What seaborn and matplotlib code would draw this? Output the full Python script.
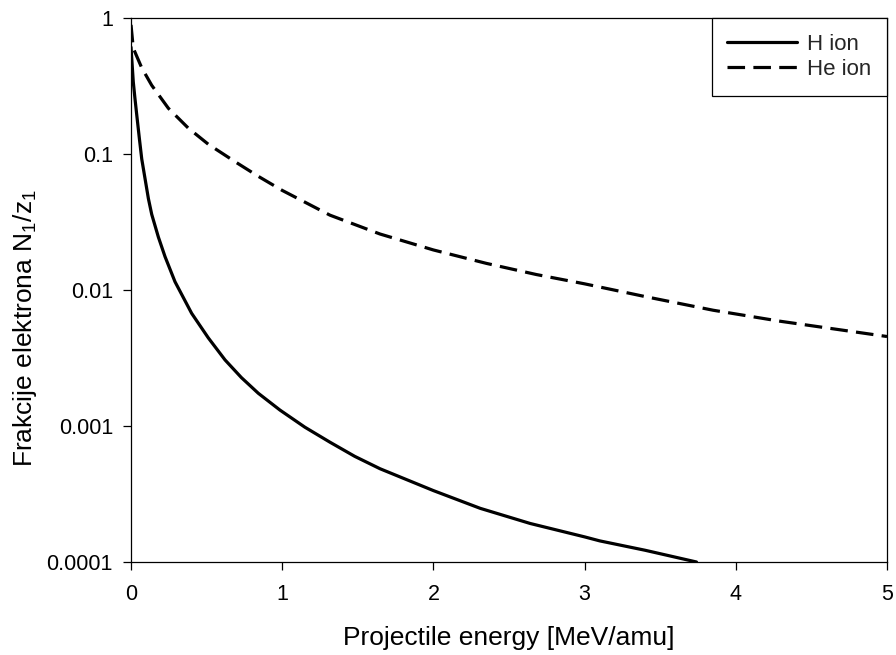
import matplotlib
matplotlib.use("Agg")
import matplotlib.pyplot as plt
import seaborn as sns
import pandas as pd
from matplotlib.ticker import FixedLocator, FixedFormatter, NullLocator

# Data
h_energy = [0, 0.015, 0.026, 0.038, 0.055, 0.071, 0.115, 0.137, 0.181, 0.225,
            0.291, 0.401, 0.511, 0.622, 0.73, 0.842, 0.985, 1.15, 1.316, 1.48,
            1.647, 2.0, 2.31, 2.64, 3.0, 3.10, 3.4, 3.74]
h_frac = [0.61, 0.34, 0.257, 0.194, 0.131, 0.092, 0.047, 0.036, 0.0245, 0.0176,
          0.0115, 0.00674, 0.00445, 0.00306, 0.00227, 0.00174, 0.00131, 0.00098,
          0.00076, 0.000598, 0.000485, 0.000335, 0.000248, 0.000192, 0.000153,
          0.000143, 0.000122, 0.0001]
he_energy = [0, 0.015, 0.071, 0.137, 0.247, 0.379, 0.511, 0.688, 0.842, 1.0,
             1.316, 1.647, 2.0, 2.35, 2.68, 3.0, 3.41, 3.85, 4.29, 5.0]
he_frac = [0.89, 0.6, 0.43, 0.32, 0.217, 0.155, 0.118, 0.0878, 0.0685, 0.054,
           0.0355, 0.0258, 0.0197, 0.0157, 0.0130, 0.0111, 0.0089, 0.0071,
           0.0059, 0.00455]
series_labels = ["H ion", "He ion"]
x_ticks = [0, 1, 2, 3, 4, 5]
y_ticks = [0.0001, 0.001, 0.01, 0.1, 1]
y_tick_labels = ["0.0001", "0.001", "0.01", "0.1", "1"]

sns.set_style("ticks")
plt.rcParams["font.family"] = ["Liberation Sans", "DejaVu Sans"]
plt.rcParams["mathtext.fontset"] = "custom"
plt.rcParams["mathtext.rm"] = "Liberation Sans"
plt.rcParams["mathtext.it"] = "Liberation Sans"

df_h = pd.DataFrame({"E": h_energy, "v": h_frac})
df_he = pd.DataFrame({"E": he_energy, "v": he_frac})

fig = plt.figure(figsize=(8.96, 6.55), dpi=100)
ax = fig.add_axes([131 / 896, 1 - 562 / 655, 756 / 896, 544 / 655])

sns.lineplot(data=df_h, x="E", y="v", ax=ax, color="black", linewidth=2.3,
             label=series_labels[0], sort=False)
sns.lineplot(data=df_he, x="E", y="v", ax=ax, color="black", linewidth=2.3,
             label=series_labels[1], sort=False)
ax.lines[1].set_dashes((5.5, 2.6))
for ln in ax.lines:
    ln.set_solid_joinstyle("round")
    ln.set_dash_joinstyle("round")

ax.set_yscale("log")
ax.set_xlim(0, 5)
ax.set_ylim(0.0001, 1)
ax.xaxis.set_major_locator(FixedLocator(x_ticks))
ax.yaxis.set_major_locator(FixedLocator(y_ticks))
ax.yaxis.set_major_formatter(FixedFormatter(y_tick_labels))
ax.yaxis.set_minor_locator(NullLocator())
ax.xaxis.set_minor_locator(NullLocator())

for s in ax.spines.values():
    s.set_visible(True)
    s.set_linewidth(0.9)
    s.set_color("black")

ax.tick_params(axis="both", direction="out", length=6, width=0.9,
               color="black", labelsize=15.5, labelcolor="black")
ax.tick_params(axis="x", pad=10)
ax.tick_params(axis="y", pad=7)

ax.set_xlabel("Projectile energy [MeV/amu]", fontsize=19, color="black",
              labelpad=15)
ax.set_ylabel("Frakcije elektrona N$_1$/z$_1$", fontsize=19, color="black")
ax.yaxis.set_label_coords(-0.122, 0.43)

leg = ax.legend(loc="upper right", frameon=True, fancybox=False,
                fontsize=16, handlelength=3.15, handletextpad=0.45,
                labelspacing=0.2, borderpad=0.7, borderaxespad=0,
                edgecolor="black", framealpha=1)
leg.get_frame().set_linewidth(0.9)

fig.savefig("out.png", dpi=100)
